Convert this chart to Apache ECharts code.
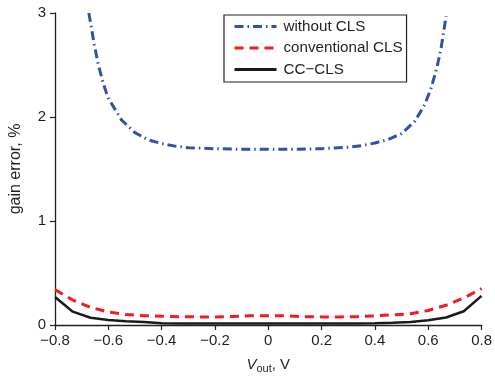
<!DOCTYPE html>
<html><head><meta charset="utf-8">
<script src="https://cdn.jsdelivr.net/npm/echarts@6/dist/echarts.min.js"></script>
<style>html,body{margin:0;padding:0;background:#fff}#c{width:495px;height:379px}</style>
</head><body><div id="c"></div>
<script>
// x positions shared by conventional CLS and CC-CLS
const xGrid = [-0.8, -0.7333, -0.6667, -0.6, -0.5333, -0.4667, -0.4, -0.3333, -0.2667, -0.2, -0.1333, -0.0667, 0,
               0.0667, 0.1333, 0.2, 0.2667, 0.3333, 0.4, 0.4667, 0.5333, 0.6, 0.6667, 0.7333, 0.8];
const convCLS = [0.34, 0.24, 0.17, 0.125, 0.10, 0.09, 0.085, 0.08, 0.078, 0.078, 0.082, 0.088, 0.09,
                 0.088, 0.08, 0.078, 0.078, 0.08, 0.088, 0.097, 0.108, 0.14, 0.19, 0.26, 0.35];
const ccCLS = [0.27, 0.128, 0.07, 0.047, 0.036, 0.03, 0.016, 0.015, 0.015, 0.015, 0.015, 0.015, 0.015,
               0.015, 0.015, 0.015, 0.015, 0.015, 0.016, 0.022, 0.03, 0.045, 0.072, 0.132, 0.28];
// without CLS
const xNoCLS = [-0.673, -0.653, -0.639, -0.62, -0.6, -0.55, -0.5, -0.45, -0.4, -0.35, -0.3, -0.2, -0.1, 0,
                0.1, 0.2, 0.3, 0.35, 0.4, 0.45, 0.5, 0.55, 0.587, 0.611, 0.632, 0.648, 0.667];
const noCLS = [3.0, 2.70, 2.52, 2.33, 2.18, 1.97, 1.85, 1.78, 1.745, 1.72, 1.705, 1.695, 1.69, 1.69,
               1.69, 1.695, 1.71, 1.725, 1.75, 1.785, 1.84, 1.96, 2.12, 2.28, 2.47, 2.66, 2.97];
const seriesNames = ['without CLS', 'conventional CLS', 'CC\u2212CLS'];
const xTicks = {min: -0.8, max: 0.8, interval: 0.2};
const yTicks = {min: 0, max: 3, interval: 1};

const pair = (xs, ys) => xs.map((x, i) => [x, ys[i]]);
const txt = '#231f20';
const font = '"Liberation Sans", Arial, Helvetica, sans-serif';
const fmt = v => { const r = Math.round(v * 10) / 10; if (r === 0) return '0'; return (r < 0 ? '\u2212' : '') + Math.abs(r).toString(); };

const chart = echarts.init(document.getElementById('c'), null, {renderer: 'canvas'});
chart.setOption({
  animation: false,
  backgroundColor: '#fff',
  textStyle: {fontFamily: font, color: txt},
  grid: {left: 53, right: 9, top: 13, bottom: 52.5},
  legend: {
    orient: 'vertical', left: 224, top: 15,
    padding: [4, 4, 5, 9],
    borderColor: txt, borderWidth: 1.2, borderRadius: 0,
    itemWidth: 42, itemHeight: 14, itemGap: 6.5,
    itemStyle: {opacity: 0},
    lineStyle: {width: 3},
    textStyle: {fontFamily: font, fontSize: 15.2, color: txt, padding: [0, 0, 0, 2]},
    data: seriesNames
  },
  xAxis: {
    type: 'value', min: xTicks.min, max: xTicks.max, interval: xTicks.interval,
    axisLine: {show: true, onZero: false, lineStyle: {color: txt, width: 1.3}},
    axisTick: {show: true, inside: false, length: 5, lineStyle: {color: txt, width: 1.2}},
    splitLine: {show: false},
    axisLabel: {fontFamily: font, fontSize: 15, color: txt, margin: 8, formatter: fmt},
    name: '{i|V}{s|out}{n|, V}', nameLocation: 'middle', nameGap: 30,
    nameTextStyle: {
      rich: {
        i: {fontFamily: font, fontSize: 15, fontStyle: 'italic', color: txt},
        s: {fontFamily: font, fontSize: 11, color: txt, verticalAlign: 'bottom', padding: [8, 0, 0, 0]},
        n: {fontFamily: font, fontSize: 15, color: txt}
      }
    }
  },
  yAxis: {
    type: 'value', min: yTicks.min, max: yTicks.max, interval: yTicks.interval,
    axisLine: {show: true, onZero: false, lineStyle: {color: txt, width: 1.3}},
    axisTick: {show: true, inside: false, length: 5, lineStyle: {color: txt, width: 1.2}},
    splitLine: {show: false},
    axisLabel: {fontFamily: font, fontSize: 15, color: txt, margin: 9},
    name: 'gain error, %', nameLocation: 'middle', nameGap: 31, nameRotate: 90,
    nameTextStyle: {fontFamily: font, fontSize: 16, color: txt}
  },
  series: [
    {name: seriesNames[0], type: 'line', data: pair(xNoCLS, noCLS), symbol: 'none', smooth: false,
     lineStyle: {color: '#3452a3', width: 3, type: [9, 4, 1.5, 4]}, itemStyle: {color: '#3452a3'}},
    {name: seriesNames[1], type: 'line', data: pair(xGrid, convCLS), symbol: 'none',
     lineStyle: {color: '#ee1c25', width: 3, type: [9, 6]}, itemStyle: {color: '#ee1c25'}},
    {name: seriesNames[2], type: 'line', data: pair(xGrid, ccCLS), symbol: 'none',
     lineStyle: {color: '#1a1a1a', width: 2.5, type: 'solid'}, itemStyle: {color: '#1a1a1a'}}
  ]
});
</script></body></html>
